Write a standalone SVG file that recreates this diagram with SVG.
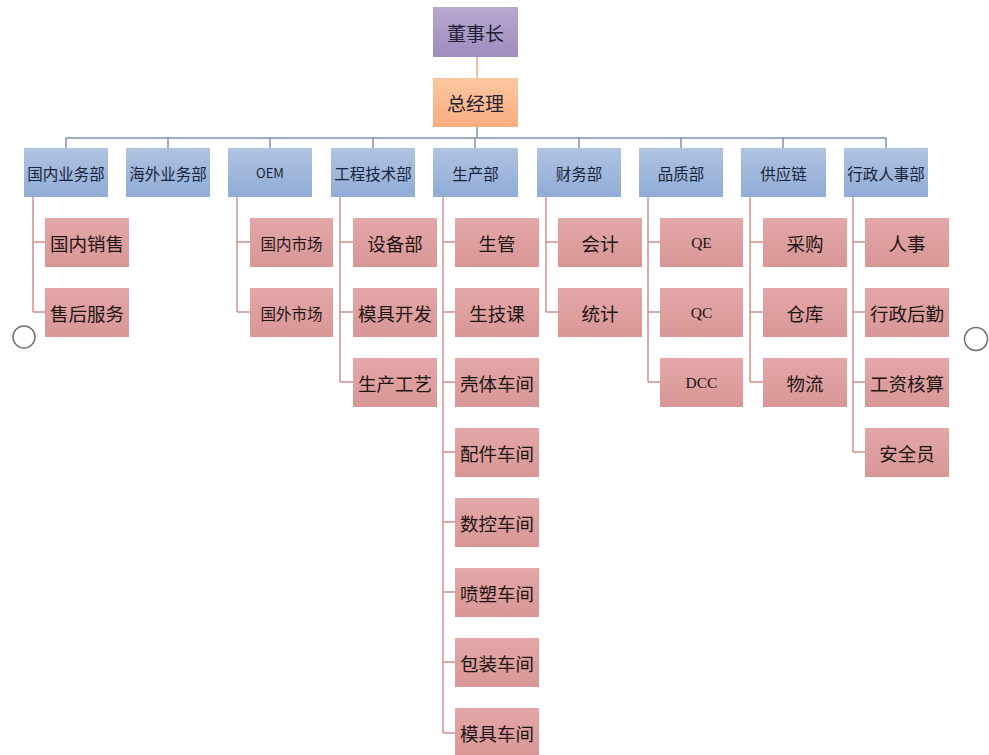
<svg xmlns="http://www.w3.org/2000/svg" width="989" height="755" viewBox="0 0 989 755">
<defs>
<linearGradient id="gPurple" x1="0" y1="0" x2="0" y2="1"><stop offset="0" stop-color="#b7a8cf"/><stop offset="1" stop-color="#9e8dbe"/></linearGradient>
<linearGradient id="gOrange" x1="0" y1="0" x2="0" y2="1"><stop offset="0" stop-color="#fcc7a0"/><stop offset="1" stop-color="#f9ad80"/></linearGradient>
<linearGradient id="gBlue" x1="0" y1="0" x2="0" y2="1"><stop offset="0" stop-color="#b0c4e2"/><stop offset="1" stop-color="#8fabd6"/></linearGradient>
<linearGradient id="gPink" x1="0" y1="0" x2="0" y2="1"><stop offset="0" stop-color="#e3a7a7"/><stop offset="1" stop-color="#d89796"/></linearGradient>
</defs>
<style>
.top{fill:url(#gPurple)}
.gm{fill:url(#gOrange)}
.dept{fill:url(#gBlue)}
.sub{fill:url(#gPink)}
text{font-family:"Noto Sans CJK SC","Liberation Sans",sans-serif;text-anchor:middle;dominant-baseline:central}
.t1{font-size:19px;fill:#231f35}
.td{font-size:15.5px;fill:#18233a}
.ts{font-size:18.5px;fill:#1f1414}
.tss{font-size:15.5px;fill:#1f1414}
.tl{font-size:15.5px;font-family:"Liberation Serif",serif;fill:#1f1414}
.cOrange{stroke:#f0a878;stroke-width:1.5;fill:none}
.cBlue{stroke:#7f93b5;stroke-width:1.5;fill:none}
.cPink{stroke:#cf8f8f;stroke-width:1.5;fill:none}
.circ{fill:none;stroke:#6f6f6f;stroke-width:1.5}
</style>
<rect width="989" height="755" fill="#ffffff"/>
<g id="connectors">
<path class="cOrange" d="M477 57V78"/>
<path class="cBlue" d="M477 127V138M66 148V138H886V148M168 138V148M270 138V148M373 138V148M475 138V148M579 138V148M681 138V148M783 138V148"/>
<path class="cPink" d="M33 197V312M33 242H45M33 312H45"/>
<path class="cPink" d="M237 197V312M237 242H250M237 312H250"/>
<path class="cPink" d="M340 197V382M340 242H353M340 312H353M340 382H353"/>
<path class="cPink" d="M443 197V733M443 242H455M443 312H455M443 382H455M443 452H455M443 522H455M443 592H455M443 662H455M443 733H455"/>
<path class="cPink" d="M546 197V312M546 242H558M546 312H558"/>
<path class="cPink" d="M648 197V382M648 242H660M648 312H660M648 382H660"/>
<path class="cPink" d="M750 197V382M750 242H763M750 312H763M750 382H763"/>
<path class="cPink" d="M853 197V452M853 242H865M853 312H865M853 382H865M853 452H865"/>
</g>
<g id="n-chairman"><rect class="top" x="433" y="7" width="85" height="50"/><text class="t1" x="475.5" y="32">董事长</text></g>
<g id="n-gm"><rect class="gm" x="433" y="78" width="85" height="49"/><text class="t1" x="475.5" y="102.5">总经理</text></g>
<g id="d-domestic"><rect class="dept" x="24" y="148" width="84" height="49"/><text class="td" x="66" y="172.5">国内业务部</text></g>
<g id="d-overseas"><rect class="dept" x="126" y="148" width="84" height="49"/><text class="td" x="168" y="172.5">海外业务部</text></g>
<g id="d-oem"><rect class="dept" x="228" y="148" width="84" height="49"/><text class="td" x="270" y="172.5" style="font-size:13px">OEM</text></g>
<g id="d-eng"><rect class="dept" x="331" y="148" width="84" height="49"/><text class="td" x="373" y="172.5">工程技术部</text></g>
<g id="d-prod"><rect class="dept" x="433" y="148" width="85" height="49"/><text class="td" x="475.5" y="172.5">生产部</text></g>
<g id="d-fin"><rect class="dept" x="537" y="148" width="84" height="49"/><text class="td" x="579" y="172.5">财务部</text></g>
<g id="d-qa"><rect class="dept" x="639" y="148" width="84" height="49"/><text class="td" x="681" y="172.5">品质部</text></g>
<g id="d-supply"><rect class="dept" x="741" y="148" width="85" height="49"/><text class="td" x="783.5" y="172.5">供应链</text></g>
<g id="d-admin"><rect class="dept" x="844" y="148" width="84" height="49"/><text class="td" x="886" y="172.5">行政人事部</text></g>
<g id="s-dom-sales"><rect class="sub" x="45" y="218" width="84" height="49"/><text class="ts" x="87" y="242.5">国内销售</text></g>
<g id="s-aftersales"><rect class="sub" x="45" y="288" width="84" height="49"/><text class="ts" x="87" y="312.5">售后服务</text></g>
<g id="s-dom-market"><rect class="sub" x="250" y="218" width="83" height="49"/><text class="tss" x="291.5" y="242.5">国内市场</text></g>
<g id="s-for-market"><rect class="sub" x="250" y="288" width="83" height="49"/><text class="tss" x="291.5" y="312.5">国外市场</text></g>
<g id="s-equip"><rect class="sub" x="353" y="218" width="84" height="49"/><text class="ts" x="395" y="242.5">设备部</text></g>
<g id="s-mold-dev"><rect class="sub" x="353" y="288" width="84" height="49"/><text class="ts" x="395" y="312.5">模具开发</text></g>
<g id="s-process"><rect class="sub" x="353" y="358" width="84" height="49"/><text class="ts" x="395" y="382.5">生产工艺</text></g>
<g id="s-pmc"><rect class="sub" x="455" y="218" width="84" height="49"/><text class="ts" x="497" y="242.5">生管</text></g>
<g id="s-tech"><rect class="sub" x="455" y="288" width="84" height="49"/><text class="ts" x="497" y="312.5">生技课</text></g>
<g id="s-shell"><rect class="sub" x="455" y="358" width="84" height="49"/><text class="ts" x="497" y="382.5">壳体车间</text></g>
<g id="s-parts"><rect class="sub" x="455" y="428" width="84" height="49"/><text class="ts" x="497" y="452.5">配件车间</text></g>
<g id="s-cnc"><rect class="sub" x="455" y="498" width="84" height="49"/><text class="ts" x="497" y="522.5">数控车间</text></g>
<g id="s-spray"><rect class="sub" x="455" y="568" width="84" height="49"/><text class="ts" x="497" y="592.5">喷塑车间</text></g>
<g id="s-pack"><rect class="sub" x="455" y="638" width="84" height="49"/><text class="ts" x="497" y="662.5">包装车间</text></g>
<g id="s-mold-ws"><rect class="sub" x="455" y="708" width="84" height="49"/><text class="ts" x="497" y="733">模具车间</text></g>
<g id="s-acct"><rect class="sub" x="558" y="218" width="84" height="49"/><text class="ts" x="600" y="242.5">会计</text></g>
<g id="s-stat"><rect class="sub" x="558" y="288" width="84" height="49"/><text class="ts" x="600" y="312.5">统计</text></g>
<g id="s-qe"><rect class="sub" x="660" y="218" width="83" height="49"/><text class="tl" x="701.5" y="242.5">QE</text></g>
<g id="s-qc"><rect class="sub" x="660" y="288" width="83" height="49"/><text class="tl" x="701.5" y="312.5">QC</text></g>
<g id="s-dcc"><rect class="sub" x="660" y="358" width="83" height="49"/><text class="tl" x="701.5" y="382.5">DCC</text></g>
<g id="s-purchase"><rect class="sub" x="763" y="218" width="84" height="49"/><text class="ts" x="805" y="242.5">采购</text></g>
<g id="s-warehouse"><rect class="sub" x="763" y="288" width="84" height="49"/><text class="ts" x="805" y="312.5">仓库</text></g>
<g id="s-logistics"><rect class="sub" x="763" y="358" width="84" height="49"/><text class="ts" x="805" y="382.5">物流</text></g>
<g id="s-hr"><rect class="sub" x="865" y="218" width="84" height="49"/><text class="ts" x="907" y="242.5">人事</text></g>
<g id="s-admin-log"><rect class="sub" x="865" y="288" width="84" height="49"/><text class="ts" x="907" y="312.5">行政后勤</text></g>
<g id="s-payroll"><rect class="sub" x="865" y="358" width="84" height="49"/><text class="ts" x="907" y="382.5">工资核算</text></g>
<g id="s-safety"><rect class="sub" x="865" y="428" width="84" height="49"/><text class="ts" x="907" y="452.5">安全员</text></g>
<circle class="circ" cx="24" cy="337" r="11"/>
<circle class="circ" cx="976" cy="339" r="11.5"/>
</svg>
